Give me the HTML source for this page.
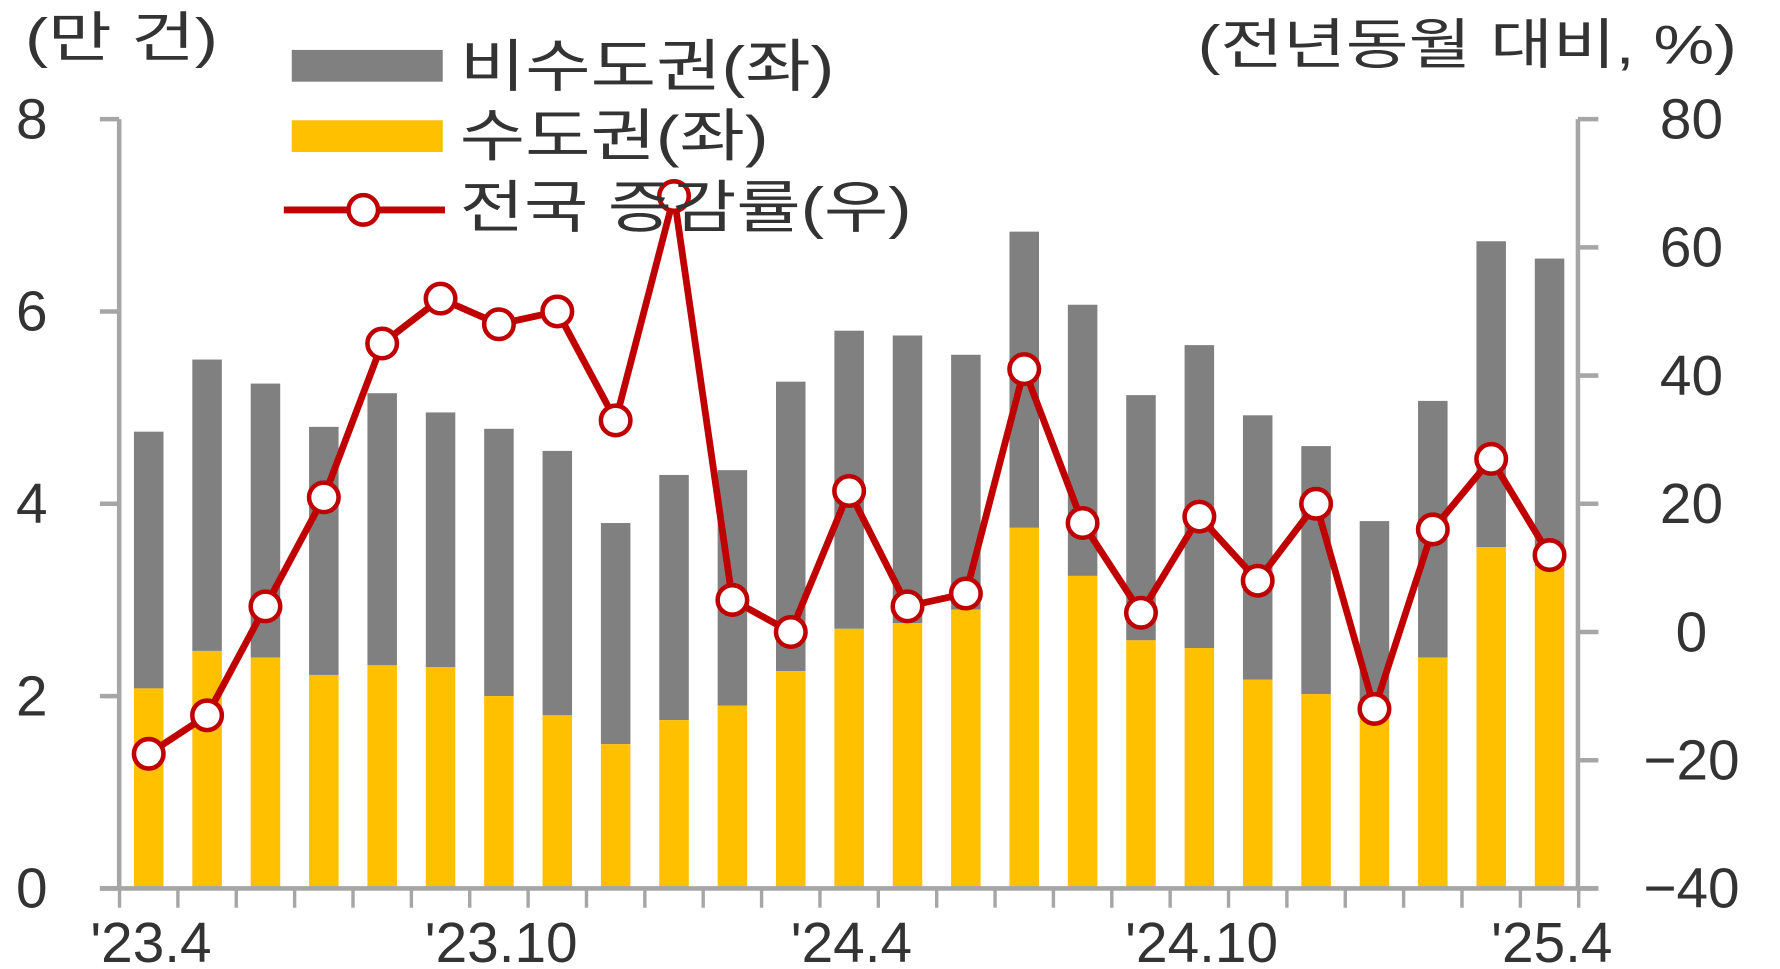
<!DOCTYPE html>
<html><head><meta charset="utf-8"><style>
html,body{margin:0;padding:0;background:#fff;}
svg{display:block;font-family:"Liberation Sans","Noto Sans CJK KR",sans-serif;}
</style></head><body>
<svg id="chart" width="1780" height="969" viewBox="0 0 1568 854" preserveAspectRatio="none" xmlns="http://www.w3.org/2000/svg">
<g id="bars"></g>
<g id="axes"></g>
<g id="line"></g>
<text x="22" y="50" font-size="48" fill="#333" textLength="170" lengthAdjust="spacingAndGlyphs">(만 건)</text>
<text x="1055" y="56" font-size="48" fill="#333" textLength="475" lengthAdjust="spacingAndGlyphs">(전년동월 대비, %)</text>
<g>
<rect x="257" y="44" width="133" height="28" fill="#808080"/>
<text x="405" y="76" font-size="50" fill="#333" textLength="330" lengthAdjust="spacingAndGlyphs">비수도권(좌)</text>
<rect x="257" y="106" width="133" height="28" fill="#ffc000"/>
<text x="405" y="137" font-size="50" fill="#333" textLength="272" lengthAdjust="spacingAndGlyphs">수도권(좌)</text>
<line x1="250" y1="185" x2="392" y2="185" stroke="#c00000" stroke-width="6"/>
<circle cx="320" cy="185" r="13" fill="#fff" stroke="#c00000" stroke-width="4"/>
<text x="405" y="200" font-size="50" fill="#333" textLength="398" lengthAdjust="spacingAndGlyphs">전국 증감률(우)</text>
</g>
</svg>
<script>
const categories = ["'23.4","'23.5","'23.6","'23.7","'23.8","'23.9","'23.10","'23.11","'23.12","'24.1","'24.2","'24.3","'24.4","'24.5","'24.6","'24.7","'24.8","'24.9","'24.10","'24.11","'24.12","'25.1","'25.2","'25.3","'25.4"];
const capital = [2.08,2.47,2.4,2.22,2.32,2.3,2.0,1.8,1.5,1.75,1.9,2.26,2.7,2.76,2.9,3.75,3.25,2.58,2.5,2.17,2.02,1.85,2.4,3.55,3.35];
const total = [4.75,5.5,5.25,4.8,5.15,4.95,4.78,4.55,3.8,4.3,4.35,5.27,5.8,5.75,5.55,6.83,6.07,5.13,5.65,4.92,4.6,3.82,5.07,6.73,6.55];
const rate = [-19,-13,4,21,45,52,48,50,33,68,5,0,22,4,6,41,17,3,18,8,20,-12,16,27,12];
const leftTicks = [0,2,4,6,8];
const rightTicks = [-40,-20,0,20,40,60,80];
const xLabelIdx = [0,6,12,18,24];
const NS="http://www.w3.org/2000/svg";
const L=105,R=1390,T=105,B=783;
const x0=131,step=(1365-131)/24,bw=26;
const xs=i=>x0+i*step;
const yl=v=>B-(v/8)*(B-T);
const yr=v=>B-((v+40)/120)*(B-T);
function mk(tag,attrs,parent){const e=document.createElementNS(NS,tag);for(const k in attrs)e.setAttribute(k,attrs[k]);parent.appendChild(e);return e;}
const gb=document.getElementById('bars'),ga=document.getElementById('axes'),gl=document.getElementById('line');
categories.forEach((c,i)=>{
  const r1=mk('rect',{x:xs(i)-bw/2,y:yl(total[i]),width:bw,height:yl(capital[i])-yl(total[i]),fill:'#808080'},gb);
  
  
  const r2=mk('rect',{x:xs(i)-bw/2,y:yl(capital[i]),width:bw,height:B-yl(capital[i]),fill:'#ffc000'},gb);
  
  
});
const ax=mk('line',{x1:L,y1:T,x2:L,y2:B,stroke:'#a6a6a6','stroke-width':4},ga);


const ax2=mk('line',{x1:R,y1:T,x2:R,y2:B,stroke:'#a6a6a6','stroke-width':4},ga);


const ax3=mk('line',{x1:88,y1:B,x2:1408,y2:B,stroke:'#a6a6a6','stroke-width':4},ga);


leftTicks.forEach(v=>{
  mk('line',{x1:88,y1:yl(v),x2:L,y2:yl(v),stroke:'#a6a6a6','stroke-width':4},ga);
  const t=mk('text',{x:28,y:yl(v)+17,'font-size':50,fill:'#333','text-anchor':'middle'},ga);t.textContent=v;
  
  
});
rightTicks.forEach(v=>{
  mk('line',{x1:R,y1:yr(v),x2:1408,y2:yr(v),stroke:'#a6a6a6','stroke-width':4},ga);
  const t=mk('text',{x:1490,y:yr(v)+17,'font-size':50,fill:'#333','text-anchor':'middle'},ga);t.textContent=(v<0?'\u2212'+(-v):v);
  
  
});
for(let i=0;i<=categories.length;i++){
  const xx=xs(i)-step/2;
  mk('line',{x1:xx,y1:B,x2:xx,y2:800,stroke:'#a6a6a6','stroke-width':3},ga);
}
xLabelIdx.forEach(i=>{
  const t=mk('text',{x:xs(i)+2,y:848,'font-size':50,fill:'#333','text-anchor':'middle'},ga);t.textContent=categories[i];
  
  
});
const pts=rate.map((v,i)=>xs(i)+','+yr(v)).join(' ');
const pl=mk('polyline',{points:pts,fill:'none',stroke:'#c00000','stroke-width':6,'stroke-linejoin':'round'},gl);


rate.forEach((v,i)=>{
  const c=mk('circle',{cx:xs(i),cy:yr(v),r:13,fill:'#fff',stroke:'#c00000','stroke-width':4},gl);
  
  
});
</script>
</body></html>
